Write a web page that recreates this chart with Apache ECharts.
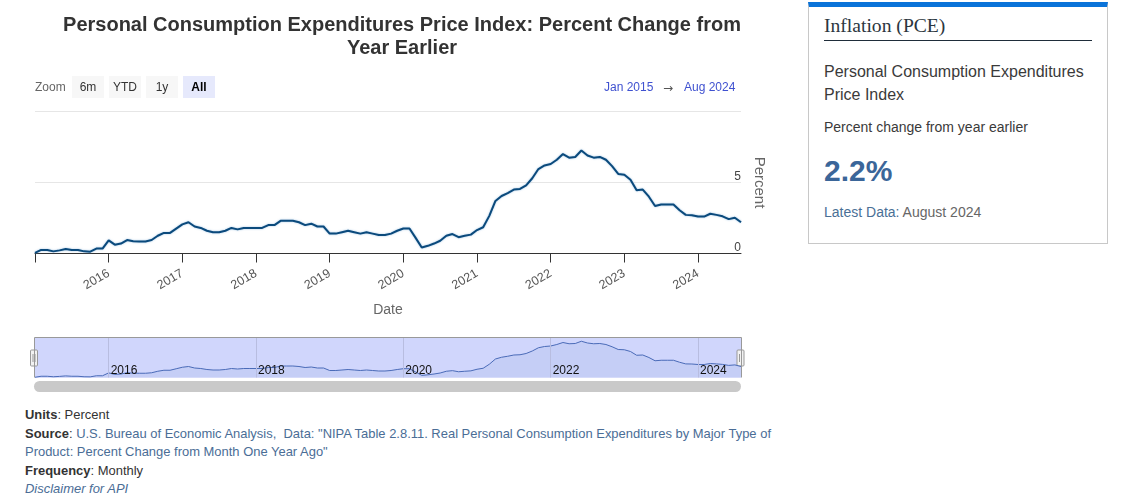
<!DOCTYPE html>
<html>
<head>
<meta charset="utf-8">
<title>Inflation (PCE)</title>
<script src="https://cdn.jsdelivr.net/npm/echarts@6/dist/echarts.min.js"></script>
<style>
  html, body { margin: 0; padding: 0; background: #fff; overflow: hidden; }
  body { width: 1127px; height: 495px; position: relative; font-family: "Liberation Sans", Arial, sans-serif; }
  #chart { position: absolute; left: 0; top: 0; width: 800px; height: 400px; }
  .abs { position: absolute; white-space: nowrap; }
  .zoom-btn { position: absolute; top: 76px; width: 32px; height: 22px; line-height: 23px; text-align: center; font-size: 12px; color: #333; background: #f7f7f7; }
  .zoom-btn.active { background: #e6e9fc; color: #000; font-weight: bold; }
  .range { color: #3f51d0; font-size: 12px; top: 80px; }
  #notes { position: absolute; left: 25px; top: 406px; font-size: 12.96px; line-height: 18.6px; color: #333; white-space: nowrap; }
  #notes a { color: #4a6d96; text-decoration: none; }
  #notes b { font-weight: bold; }
  #card { position: absolute; left: 808px; top: 2px; width: 298px; height: 236px; border: 1px solid #c8c8c8; border-top: 5px solid #0a73d9; }
  #card div { position: absolute; left: 15px; white-space: nowrap; }
</style>
</head>
<body>
<div id="chart"></div>

<div class="abs" style="left:35px;top:80px;font-size:12px;color:#666">Zoom</div>
<div class="zoom-btn" style="left:72px">6m</div>
<div class="zoom-btn" style="left:109px">YTD</div>
<div class="zoom-btn" style="left:146px">1y</div>
<div class="zoom-btn active" style="left:183px">All</div>
<div class="abs range" style="left:604px">Jan 2015</div>
<div class="abs" style="left:663px;top:81px;font-family:'DejaVu Sans',sans-serif;font-size:12px;color:#555">&#8594;</div>
<div class="abs range" style="left:684px">Aug 2024</div>

<div id="notes">
  <b>Units</b>: Percent<br>
  <b>Source</b>: <a>U.S. Bureau of Economic Analysis,</a>&nbsp; <a>Data: "NIPA Table 2.8.11. Real Personal Consumption Expenditures by Major Type of<br>
  Product: Percent Change from Month One Year Ago"</a><br>
  <b>Frequency</b>: Monthly<br>
  <a><i>Disclaimer for API</i></a>
</div>

<div id="card">
  <div style="top:8px;font-family:'Liberation Serif',serif;font-size:19.6px;color:#2b3640">Inflation (PCE)</div>
  <div style="top:33px;width:268px;height:1px;background:#1f2d3a"></div>
  <div style="top:53px;font-size:16px;line-height:23px;color:#3a3a3a">Personal Consumption Expenditures<br>Price Index</div>
  <div style="top:112px;font-size:14px;color:#3a3a3a">Percent change from year earlier</div>
  <div style="top:147px;font-size:30px;font-weight:bold;color:#3b6699">2.2%</div>
  <div style="top:197px;font-size:14px;color:#666"><span style="color:#4a6f96">Latest Data:</span> August 2024</div>
</div>

<script>
  const startYear = 2015;
  // monthly values, Jan 2015 - Aug 2024
  const pceValues = [
    0.05, 0.25, 0.25, 0.15, 0.22, 0.32, 0.25, 0.25, 0.15, 0.13, 0.35, 0.35,
    0.92, 0.62, 0.7, 0.95, 0.87, 0.85, 0.85, 0.95, 1.25, 1.45, 1.45, 1.75,
    2.05, 2.2, 1.9, 1.8, 1.6, 1.5, 1.5, 1.6, 1.8, 1.7, 1.8, 1.8,
    1.8, 1.8, 2.0, 2.0, 2.3, 2.3, 2.3, 2.2, 2.0, 2.1, 1.9, 1.9,
    1.4, 1.4, 1.5, 1.6, 1.5, 1.4, 1.5, 1.4, 1.3, 1.3, 1.4, 1.6,
    1.76, 1.76, 1.1, 0.42, 0.54, 0.7, 0.9, 1.25, 1.37, 1.15, 1.25, 1.33,
    1.65, 1.85, 2.65, 3.7, 4.05, 4.25, 4.5, 4.55, 4.8, 5.3, 5.95, 6.2,
    6.3, 6.6, 7.0, 6.75, 6.8, 7.25, 6.9, 6.75, 6.8, 6.6, 6.15, 5.6,
    5.55, 5.2, 4.45, 4.5, 4.0, 3.35, 3.45, 3.45, 3.45, 3.05, 2.72, 2.7,
    2.6, 2.6, 2.8, 2.72, 2.62, 2.42, 2.52, 2.2
  ];
  const yTicks = [0, 5];
  const monthLabels = pceValues.map((v, i) => {
    const year = startYear + Math.floor(i / 12);
    return `${year}-${String((i % 12) + 1).padStart(2, "0")}`;
  });

  const fontFamily = '"Liberation Sans", Arial, sans-serif';
  const navLeft = 35, navRight = 741, navTop = 337.5, navBottom = 377.5;

  const chart = echarts.init(document.getElementById("chart"), null, { renderer: "canvas" });

  const handle = (cx) => ({
    type: "group",
    children: [
      { type: "rect", shape: { x: cx - 3.5, y: 350, width: 7, height: 16, r: 1 }, style: { fill: "#f2f2f2", stroke: "#999", lineWidth: 1 } },
      { type: "line", shape: { x1: cx - 1, y1: 354, x2: cx - 1, y2: 362 }, style: { stroke: "#999", lineWidth: 1 } },
      { type: "line", shape: { x1: cx + 1, y1: 354, x2: cx + 1, y2: 362 }, style: { stroke: "#999", lineWidth: 1 } },
    ],
    z: 20,
  });

  chart.setOption({
    animation: false,
    textStyle: { fontFamily },
    title: {
      text: "Personal Consumption Expenditures Price Index: Percent Change from\nYear Earlier",
      left: 397,
      top: 9,
      textAlign: "center",
      textStyle: { fontSize: 20, fontWeight: "bold", color: "#333", lineHeight: 23, fontFamily },
    },
    tooltip: { trigger: "axis" },
    grid: [
      { left: navLeft, right: 800 - navRight, top: 111.5, height: 142 },
      {
        left: navLeft, right: 800 - navRight, top: navTop, height: navBottom - navTop,
        show: true, backgroundColor: "#d0d6fc", borderWidth: 0,
      },
    ],
    xAxis: [
      {
        type: "category",
        gridIndex: 0,
        data: monthLabels,
        boundaryGap: false,
        name: "Date",
        nameLocation: "middle",
        nameGap: 50,
        nameTextStyle: { fontSize: 14, color: "#666" },
        axisLine: { lineStyle: { color: "#333", width: 1 } },
        axisTick: { length: 9, interval: (i) => i % 12 === 0, lineStyle: { color: "#333" } },
        axisLabel: {
          rotate: 30,
          margin: 19,
          fontSize: 12.5,
          color: "#555",
          interval: (i) => i > 0 && i % 12 === 0,
          formatter: (v) => v.slice(0, 4),
        },
        splitLine: { show: false },
      },
      {
        type: "category",
        gridIndex: 1,
        data: monthLabels,
        boundaryGap: false,
        axisLine: { show: false },
        axisTick: { show: false },
        axisLabel: {
          inside: true,
          align: "left",
          margin: 1,
          padding: [0, 0, 0, 2],
          fontSize: 12,
          color: "#111",
          interval: (i) => i % 24 === 12,
          formatter: (v) => v.slice(0, 4),
        },
        splitLine: { show: true, interval: (i) => i % 24 === 12, lineStyle: { color: "#b8bde0", width: 1 } },
        z: 10,
      },
    ],
    yAxis: [
      {
        type: "value",
        gridIndex: 0,
        position: "right",
        min: 0,
        max: 10,
        interval: 5,
        name: "Percent",
        nameLocation: "middle",
        nameRotate: -90,
        nameGap: 10,
        nameTextStyle: { fontSize: 15, color: "#666", verticalAlign: "middle" },
        axisLine: { show: false },
        axisTick: { show: false },
        axisLabel: {
          inside: true,
          margin: 0,
          fontSize: 12,
          color: "#444",
          verticalAlign: "bottom",
          padding: [0, 0, 0, 0],
          formatter: (v) => (yTicks.includes(v) ? String(v) : ""),
        },
        splitLine: { lineStyle: { color: "#e6e6e6", width: 1 } },
      },
      {
        type: "value",
        gridIndex: 1,
        min: 0,
        max: 8,
        axisLine: { show: false },
        axisTick: { show: false },
        axisLabel: { show: false },
        splitLine: { show: false },
      },
    ],
    series: [
      {
        name: "Percent",
        type: "line",
        xAxisIndex: 0,
        yAxisIndex: 0,
        data: pceValues,
        showSymbol: false,
        lineStyle: { color: "#0b4a7c", width: 2, shadowColor: "rgba(90,150,205,0.6)", shadowBlur: 2 },
        itemStyle: { color: "#0b4a7c" },
      },
      {
        name: "Navigator",
        type: "line",
        xAxisIndex: 1,
        yAxisIndex: 1,
        data: pceValues,
        showSymbol: false,
        silent: true,
        tooltip: { show: false },
        lineStyle: { color: "#4a6bb8", width: 1 },
        areaStyle: { color: "#c5cef6", opacity: 1 },
      },
    ],
    graphic: [
      {
        type: "polyline",
        shape: { points: [[navLeft - 0.5, navBottom], [navLeft - 0.5, navTop], [navRight + 0.5, navTop], [navRight + 0.5, navBottom]] },
        style: { fill: null, stroke: "#999", lineWidth: 1 },
        z: 15,
      },
      { type: "rect", shape: { x: navLeft - 1, y: 381, width: navRight - navLeft + 1, height: 11, r: 5.5 }, style: { fill: "#c9c9c9" } },
      handle(navLeft - 1),
      handle(navRight - 0.5),
    ],
  });
</script>
</body>
</html>
